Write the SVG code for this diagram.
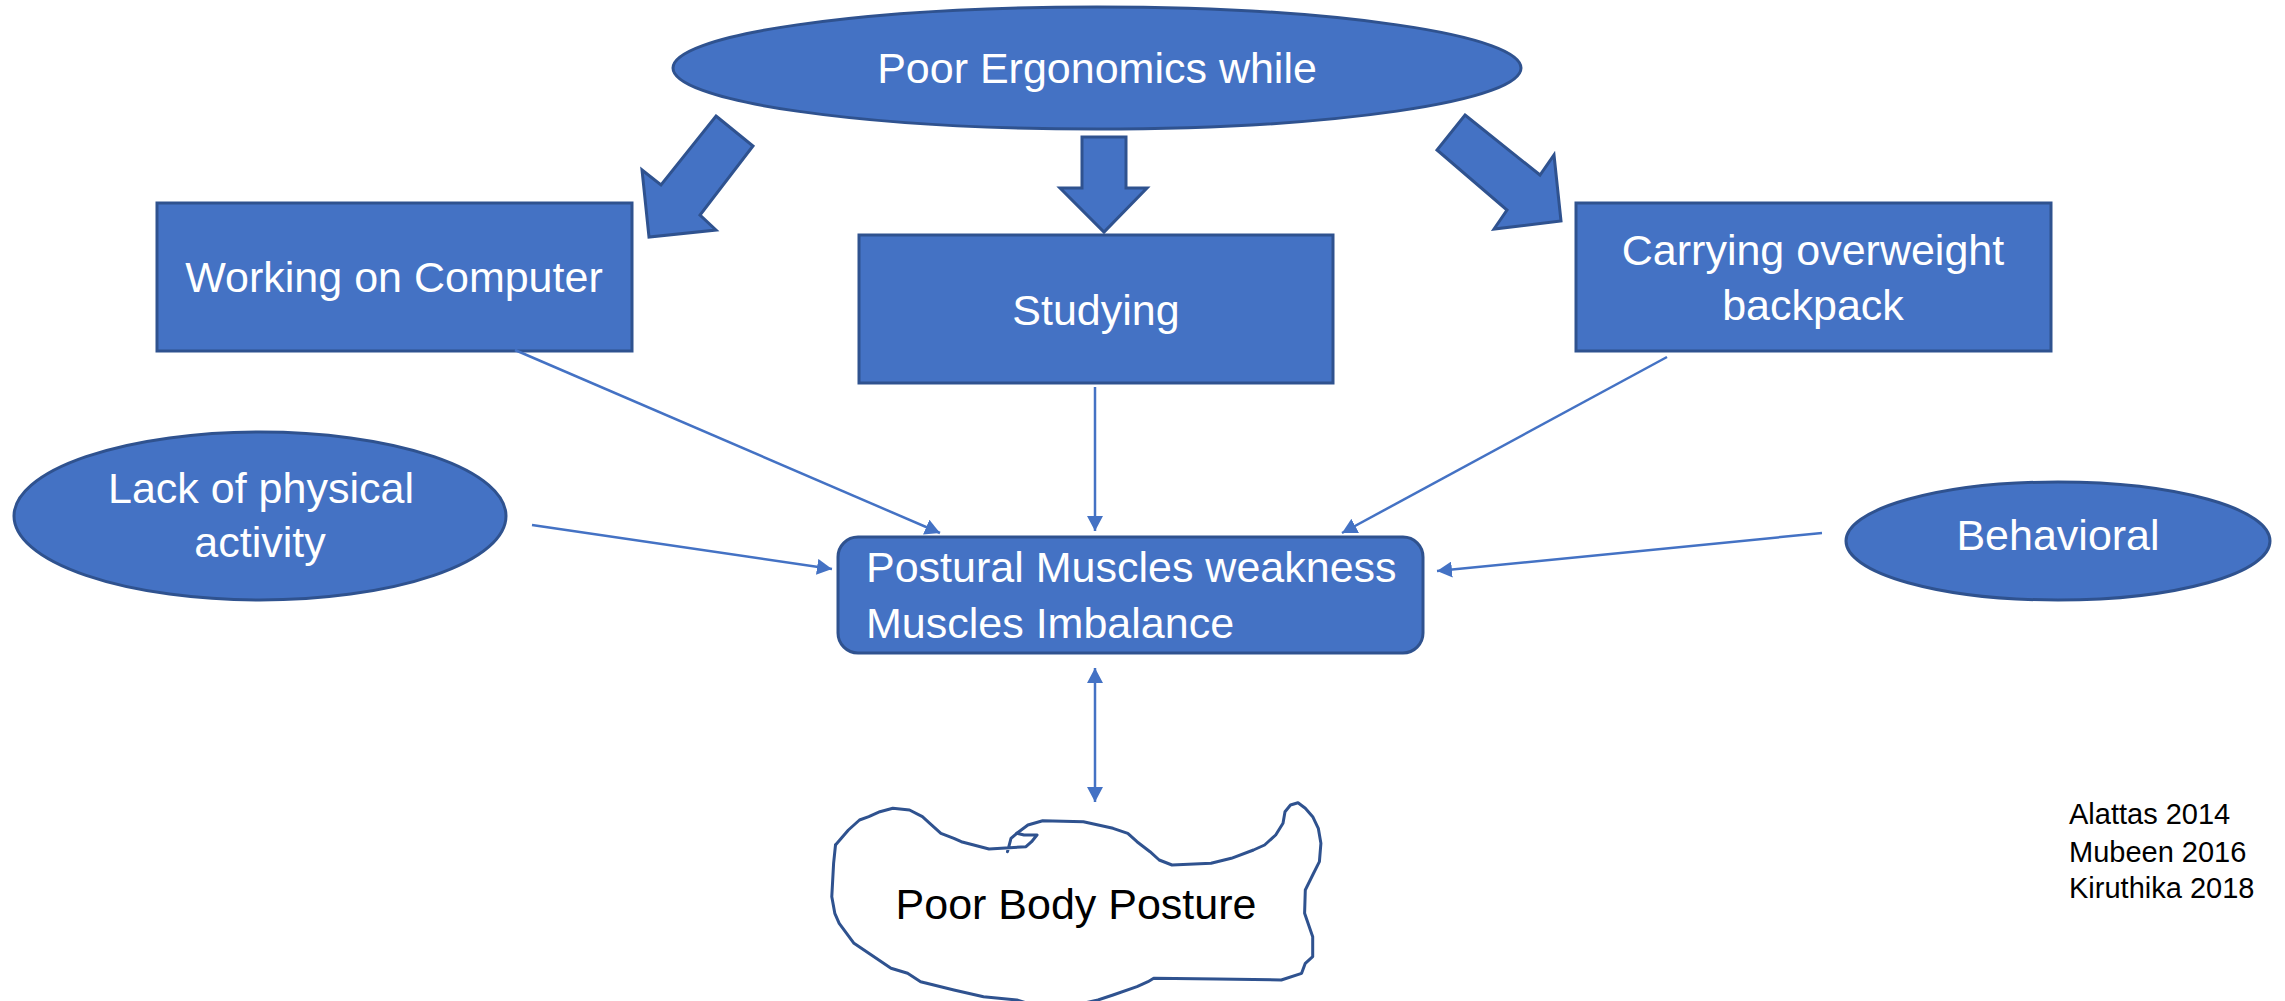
<svg xmlns="http://www.w3.org/2000/svg" width="2285" height="1001" viewBox="0 0 2285 1001">
<style>
.shape{fill:#4472C4;stroke:#2F528F;stroke-width:3}
.lbl{font-family:"Liberation Sans",Arial,sans-serif;font-size:43px;fill:#FFFFFF}
.lblc{text-anchor:middle}
.dark{fill:#000000}
.conn{stroke:#4472C4;stroke-width:2.5;fill:none}
.cite{font-family:"Liberation Sans",Arial,sans-serif;font-size:29px;fill:#000000}
</style>
<defs>
<marker id="ah" markerUnits="userSpaceOnUse" markerWidth="16" markerHeight="16" refX="15" refY="8" orient="auto">
<path d="M0,0 L15,8 L0,16 z" fill="#4472C4"/>
</marker>
<marker id="ahs" markerUnits="userSpaceOnUse" markerWidth="16" markerHeight="16" refX="0" refY="8" orient="auto">
<path d="M15,0 L0,8 L15,16 z" fill="#4472C4"/>
</marker>
</defs>
<rect width="2285" height="1001" fill="#FFFFFF"/>

<g id="node-ergonomics">
<ellipse class="shape" cx="1097" cy="68" rx="424" ry="61"/>
<text class="lbl lblc" x="1097" y="83">Poor Ergonomics while</text>
</g>

<g id="block-arrows">
<polygon class="shape" points="716,116 753,146 700,215 716,230 649,237 642,170 661,185"/>
<polygon class="shape" points="1082,137 1126,137 1126,188 1147,188 1104,232 1060,188 1082,188"/>
<polygon class="shape" points="1465,115 1540,175 1554,155 1561,221 1494,229 1507,210 1437,150"/>
</g>

<g id="node-computer">
<rect class="shape" x="157" y="203" width="475" height="148"/>
<text class="lbl lblc" x="394" y="292">Working on Computer</text>
</g>

<g id="node-studying">
<rect class="shape" x="859" y="235" width="474" height="148"/>
<text class="lbl lblc" x="1096" y="325">Studying</text>
</g>

<g id="node-backpack">
<rect class="shape" x="1576" y="203" width="475" height="148"/>
<text class="lbl lblc" x="1813" y="265">Carrying overweight</text>
<text class="lbl lblc" x="1813" y="320">backpack</text>
</g>

<g id="node-physical">
<ellipse class="shape" cx="260" cy="516" rx="246" ry="84"/>
<text class="lbl lblc" x="261" y="503">Lack of physical</text>
<text class="lbl lblc" x="260" y="557">activity</text>
</g>

<g id="node-behavioral">
<ellipse class="shape" cx="2058" cy="541" rx="212" ry="59"/>
<text class="lbl lblc" x="2058" y="550">Behavioral</text>
</g>

<g id="node-muscles">
<rect class="shape" x="838" y="537" width="585" height="116" rx="20" ry="20"/>
<text class="lbl" x="866" y="582">Postural Muscles weakness</text>
<text class="lbl" x="866" y="638">Muscles Imbalance</text>
</g>

<g id="node-posture">
<polyline fill="none" stroke="#2F528F" stroke-width="3" stroke-linejoin="round" stroke-linecap="round" points="835.5,845 848.4,830 859.5,820 868.8,816.7 879.9,811.7 892.8,808.3 909.5,810 922.4,816.7 929.8,823.3 940.9,833.3 953.9,838.3 961.3,841.7 989,849 1026,846.7 1031.6,841.7 1037,835 1024,835 1016.8,833.3 1011,838.3 1007.5,851.7"/>
<polyline fill="none" stroke="#2F528F" stroke-width="3" stroke-linejoin="round" stroke-linecap="round" points="1016.8,833.3 1027.9,825 1042.7,820.7 1083.4,821.7 1113,828.3 1127.8,833.3 1137,841.7 1150,851.7 1159.2,860 1172,865 1211,863.3 1231.3,858.3 1253.5,850 1264.6,845 1275.7,835 1283,823.3 1285,811.7 1290.5,805 1298,802.7 1305.3,808.3 1312.7,816.7 1318.3,828.3 1320.9,843.3 1319.4,861.7 1312.7,875 1305.3,890 1304.6,913.3 1312.7,936.7 1312.7,956.7 1305.3,963.3 1301.6,973.3 1281.3,980 1216.5,979 1153.7,978.3 1148,981.7 1137,986.7 1113,995 1098,1000 1080,1004 1030,1004 1016.8,1000 983.5,996.7 953.9,990 920.6,981.7 907.6,973.3 891,968.3 868.8,953.3 854,943.3 839.2,923.3 834.8,913.3 831.8,896.7 833.6,863.3 835.5,845"/>
<text class="lbl lblc dark" x="1076" y="919">Poor Body Posture</text>
</g>

<g id="connectors">
<line class="conn" x1="515" y1="350" x2="940" y2="533" marker-end="url(#ah)"/>
<line class="conn" x1="1095" y1="387" x2="1095" y2="531" marker-end="url(#ah)"/>
<line class="conn" x1="1667" y1="357" x2="1342" y2="533" marker-end="url(#ah)"/>
<line class="conn" x1="532" y1="525" x2="832" y2="569" marker-end="url(#ah)"/>
<line class="conn" x1="1822" y1="533" x2="1437" y2="571" marker-end="url(#ah)"/>
<line class="conn" x1="1095" y1="668" x2="1095" y2="802" marker-start="url(#ahs)" marker-end="url(#ah)"/>
</g>

<g id="citations">
<text class="cite" x="2069" y="824">Alattas 2014</text>
<text class="cite" x="2069" y="862">Mubeen 2016</text>
<text class="cite" x="2069" y="898">Kiruthika 2018</text>
</g>
</svg>
